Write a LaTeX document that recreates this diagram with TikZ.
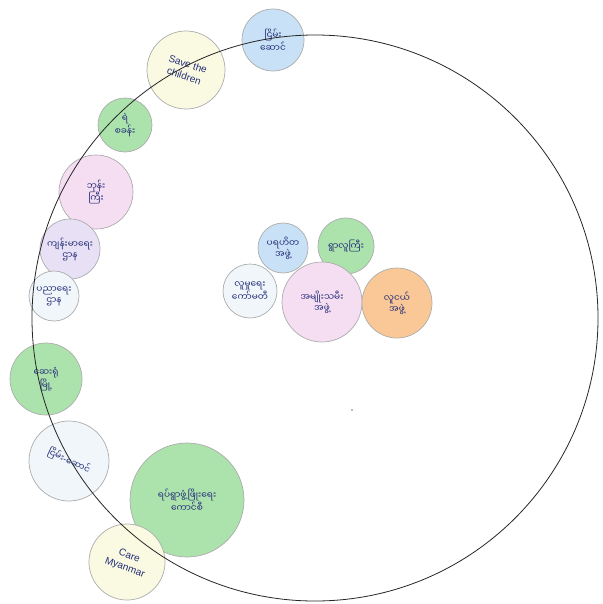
\documentclass[tikz,border=0pt]{standalone}
\usepackage{fontspec}
\newfontfamily\mmfont[Script=Myanmar]{Noto Sans Myanmar UI}
\newfontfamily\latinfont{Liberation Sans}
\setmainfont{Liberation Sans}
\definecolor{ink}{RGB}{35,45,120}
\definecolor{skyfill}{RGB}{200,225,246}
\definecolor{leaffill}{RGB}{172,226,172}
\definecolor{rosefill}{RGB}{246,222,242}
\definecolor{lilacfill}{RGB}{232,225,246}
\definecolor{creamfill}{RGB}{250,250,226}
\definecolor{peachfill}{RGB}{249,200,150}
\definecolor{palefill}{RGB}{240,246,250}
\begin{document}
\begin{tikzpicture}[x=1pt, y=-1pt,
    grp/.style={circle, draw=gray!65, line width=0.7pt, inner sep=0pt, align=center,
      text=ink, font=\mmfont\fontsize{9}{11}\selectfont},
    latin/.style={font=\latinfont\fontsize{10}{12.5}\selectfont}]
  \useasboundingbox (0,0) rectangle (602,604);
  \fill[gray!70] (352,410) circle (1.2pt);
  % around the ring
  \node[grp, fill=skyfill, minimum size=62pt] (ngo1) at (273,40) {ငြိမ်း\\ဆောင်};
  \node[grp, fill=creamfill, minimum size=78pt, latin, rotate=-18] (stc) at (186,70) {Save the\\children};
  \node[grp, fill=leaffill, minimum size=54pt] (police) at (125,125) {ရဲ\\စခန်း};
  \node[grp, fill=rosefill, minimum size=74pt] (monk) at (96,192) {ဘုန်း\\ကြီး};
  \node[grp, fill=lilacfill, minimum size=60pt] (health) at (70,249) {ကျန်းမာရေး\\ဌာန};
  \node[grp, fill=palefill, minimum size=50pt] (edu) at (54,296) {ပညာရေး\\ဌာန};
  \node[grp, fill=leaffill, minimum size=72pt] (hosp) at (46,379) {ဆေးရုံ\\မြို့};
  \node[grp, fill=palefill, minimum size=80pt, rotate=-25] (ngo2) at (69,461) {ငြိမ်း{\latinfont-}ဆောင်};
  \node[grp, fill=leaffill, minimum size=114pt] (council) at (187,500) {ရပ်ရွာဖွံ့ဖြိုးရေး\\ကောင်စီ};
  \node[grp, fill=creamfill, minimum size=76pt, latin, rotate=-20] (care) at (127,562) {Care\\Myanmar};
  % inside the ring
  \node[grp, fill=skyfill, minimum size=50pt] (charity) at (283,248) {ပရဟိတ\\အဖွဲ့};
  \node[grp, fill=leaffill, minimum size=56pt] (elders) at (346,246) {ရွာလူကြီး};
  \node[grp, fill=palefill, minimum size=54pt] (social) at (250,291) {လူမှုရေး\\ကော်မတီ};
  \node[grp, fill=rosefill, minimum size=80pt] (women) at (322,302) {အမျိုးသမီး\\အဖွဲ့};
  \node[grp, fill=peachfill, minimum size=70pt] (youth) at (397,303) {လူငယ်\\အဖွဲ့};
  % outer ring, over the circles
  \node[circle, draw=gray!30!black, line width=0.8pt, minimum size=566pt, inner sep=0pt] (ring) at (315,318) {};
\end{tikzpicture}
\end{document}
